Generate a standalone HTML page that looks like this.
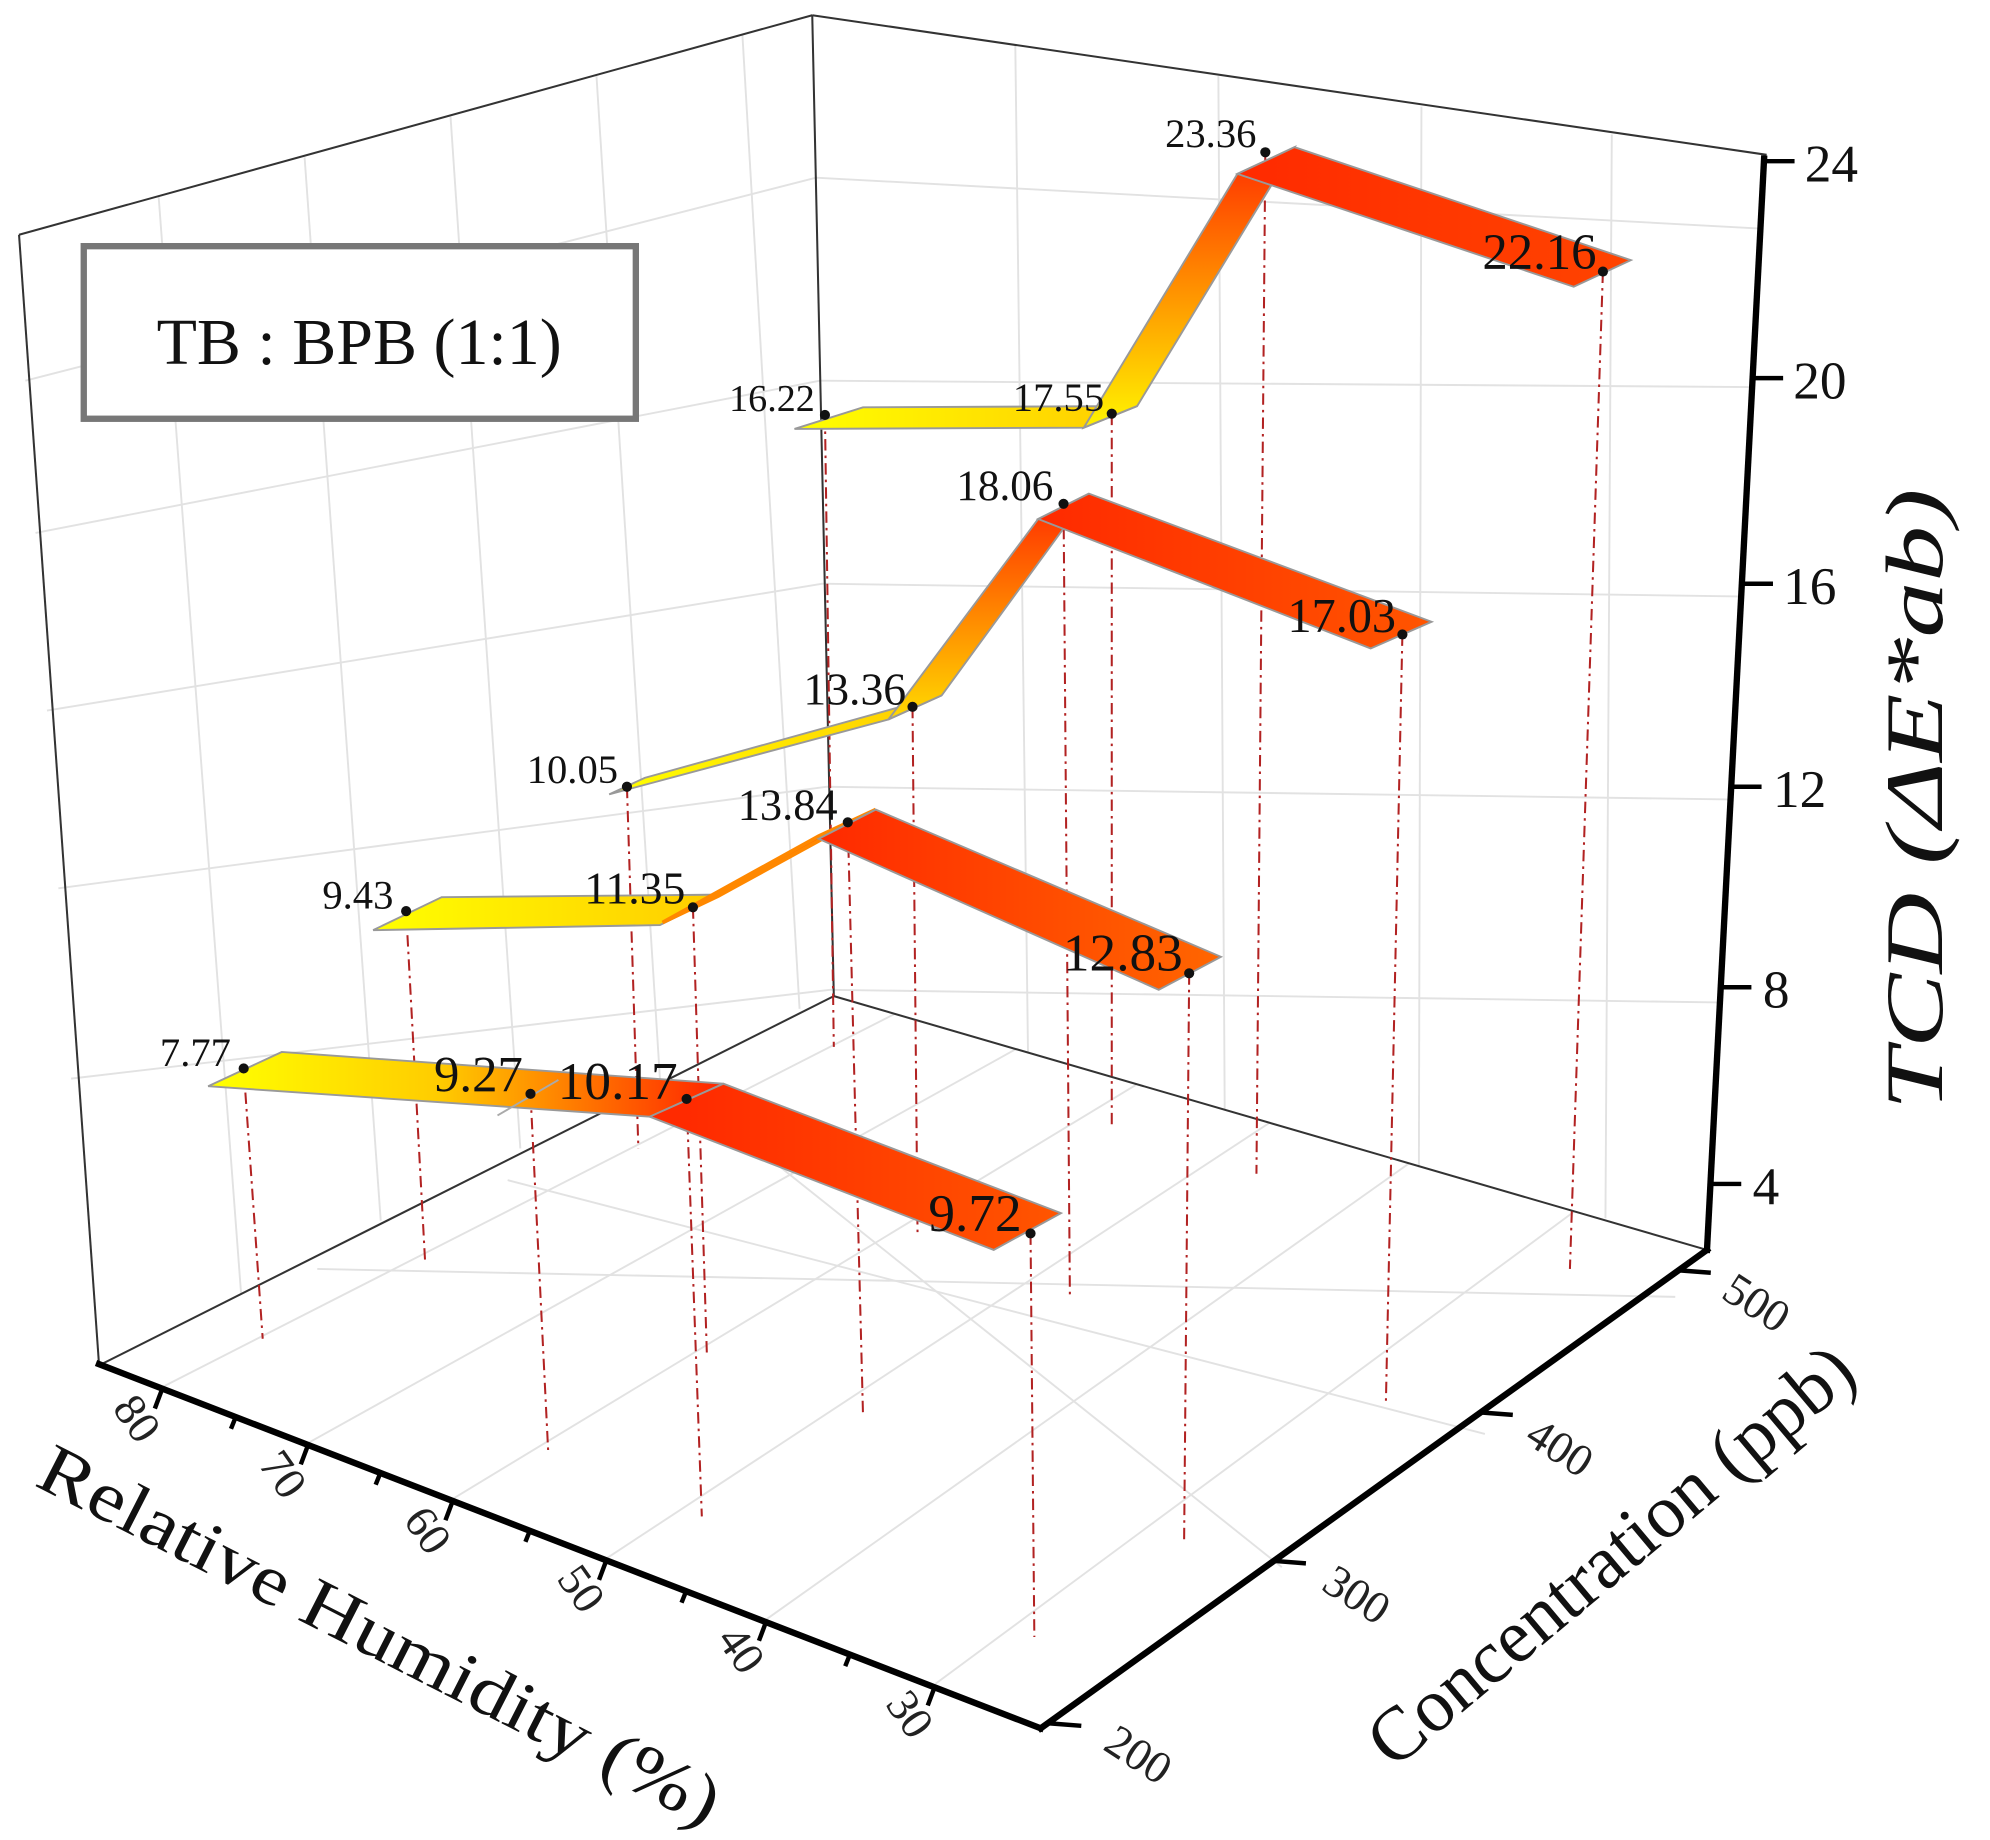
<!DOCTYPE html>
<html><head><meta charset="utf-8"><style>html,body{margin:0;padding:0;background:#fff;}svg{display:block;font-family:"Liberation Serif","Times New Roman",serif;}text{font-family:"Liberation Serif","Times New Roman",serif;}</style></head>
<body>
<svg width="1990" height="1840" viewBox="0 0 1568 1450" preserveAspectRatio="none" xmlns="http://www.w3.org/2000/svg">
<defs>
<linearGradient id="gy" x1="0" x2="1" y1="0" y2="0"><stop offset="0" stop-color="#ffff00"/><stop offset="1" stop-color="#ffcc00"/></linearGradient>
<linearGradient id="g1a" gradientUnits="userSpaceOnUse" x1="170" y1="0" x2="560" y2="0"><stop offset="0" stop-color="#ffff00"/><stop offset="0.45" stop-color="#ffcc00"/><stop offset="1" stop-color="#ff2a00"/></linearGradient>
<linearGradient id="g1b" gradientUnits="userSpaceOnUse" x1="540" y1="0" x2="835" y2="0"><stop offset="0" stop-color="#ff2a00"/><stop offset="1" stop-color="#ff5500"/></linearGradient>
<linearGradient id="g2a" gradientUnits="userSpaceOnUse" x1="540" y1="0" x2="690" y2="0"><stop offset="0" stop-color="#ffaa00"/><stop offset="1" stop-color="#ff3300"/></linearGradient>
<linearGradient id="g2b" gradientUnits="userSpaceOnUse" x1="650" y1="0" x2="962" y2="0"><stop offset="0" stop-color="#ff2a00"/><stop offset="1" stop-color="#ff6600"/></linearGradient>
<linearGradient id="g3a" gradientUnits="userSpaceOnUse" x1="0" y1="570" x2="0" y2="400"><stop offset="0" stop-color="#ffdd00"/><stop offset="1" stop-color="#ff3300"/></linearGradient>
<linearGradient id="g3b" gradientUnits="userSpaceOnUse" x1="820" y1="0" x2="1128" y2="0"><stop offset="0" stop-color="#ff2a00"/><stop offset="1" stop-color="#ff5500"/></linearGradient>
<linearGradient id="g4a" gradientUnits="userSpaceOnUse" x1="0" y1="330" x2="0" y2="125"><stop offset="0" stop-color="#ffee00"/><stop offset="1" stop-color="#ff3300"/></linearGradient>
<linearGradient id="g4b" gradientUnits="userSpaceOnUse" x1="975" y1="0" x2="1285" y2="0"><stop offset="0" stop-color="#ff2a00"/><stop offset="1" stop-color="#ff4400"/></linearGradient>
</defs>

<g stroke="#e2e2e2" stroke-width="1.5" fill="none">
<line x1="20" y1="300" x2="643" y2="140"/>
<line x1="28" y1="420" x2="646" y2="300"/>
<line x1="37" y1="560" x2="648" y2="460"/>
<line x1="46" y1="700" x2="651" y2="620"/>
<line x1="56" y1="850" x2="654" y2="780"/>
<line x1="125" y1="155" x2="190" y2="1020"/>
<line x1="240" y1="124" x2="300" y2="962"/>
<line x1="355" y1="92" x2="410" y2="905"/>
<line x1="470" y1="60" x2="520" y2="850"/>
<line x1="585" y1="28" x2="630" y2="795"/>
<line x1="643" y1="140" x2="1385" y2="180"/>
<line x1="646" y1="300" x2="1378" y2="305"/>
<line x1="648" y1="460" x2="1370" y2="470"/>
<line x1="651" y1="620" x2="1362" y2="630"/>
<line x1="654" y1="780" x2="1355" y2="790"/>
<line x1="800" y1="36" x2="810" y2="830"/>
<line x1="960" y1="60" x2="965" y2="875"/>
<line x1="1120" y1="84" x2="1118" y2="920"/>
<line x1="1270" y1="106" x2="1265" y2="960"/>
<line x1="128" y1="1093" x2="705" y2="799"/>
<line x1="243" y1="1137" x2="800" y2="827"/>
<line x1="357" y1="1181" x2="895" y2="855"/>
<line x1="478" y1="1228" x2="1000" y2="885"/>
<line x1="604" y1="1276" x2="1110" y2="917"/>
<line x1="737" y1="1327" x2="1240" y2="955"/>
<line x1="540" y1="860" x2="1010" y2="1235"/>
<line x1="400" y1="930" x2="1170" y2="1130"/>
<line x1="250" y1="1000" x2="1320" y2="1022"/>
</g>

<g stroke="#333" stroke-width="1.6" fill="none">
<line x1="15" y1="185" x2="640" y2="12"/>
<line x1="640" y1="12" x2="1392" y2="122"/>
<line x1="15" y1="185" x2="78" y2="1075"/>
<line x1="640" y1="12" x2="657" y2="785"/>
<line x1="657" y1="785" x2="80" y2="1075"/>
<line x1="657" y1="785" x2="1345" y2="985"/>
</g>

<rect x="66" y="194" width="435" height="136" fill="#fff" stroke="#777" stroke-width="5"/>
<text x="283" y="287" font-size="52" text-anchor="middle" fill="#111">TB : BPB (1:1)</text>

<g stroke="#b22222" stroke-width="1.6" stroke-dasharray="9,4,2,4" fill="none">
<line x1="192" y1="842" x2="207" y2="1055"/>
<line x1="320" y1="718" x2="335" y2="995"/>
<line x1="418" y1="862" x2="432" y2="1145"/>
<line x1="494" y1="620" x2="503" y2="905"/>
<line x1="541" y1="866" x2="553" y2="1195"/>
<line x1="546" y1="715" x2="557" y2="1068"/>
<line x1="650" y1="327" x2="657" y2="825"/>
<line x1="668" y1="648" x2="680" y2="1115"/>
<line x1="719" y1="557" x2="723" y2="975"/>
<line x1="812" y1="972" x2="815" y2="1290"/>
<line x1="838" y1="397" x2="843" y2="1020"/>
<line x1="876" y1="326" x2="876" y2="890"/>
<line x1="937" y1="767" x2="933" y2="1215"/>
<line x1="997" y1="120" x2="990" y2="925"/>
<line x1="1105" y1="500" x2="1092" y2="1105"/>
<line x1="1263" y1="214" x2="1237" y2="1000"/>
</g>

<g stroke="#999" stroke-width="1.5">
<polygon points="626,338 854,337 896,320 680,321" fill="url(#gy)"/>
<polygon points="854,337 975,137 1020,116 896,320" fill="url(#g4a)"/>
<polygon points="975,137 1240,226 1285,205 1020,116" fill="url(#g4b)"/>
<polygon points="480,626 700,567 742,548 508,613" fill="url(#gy)"/>
<polygon points="700,567 818,409 858,389 742,548" fill="url(#g3a)"/>
<polygon points="818,409 1080,511 1128,490 858,389" fill="url(#g3b)"/>
<polygon points="294,733 520,729 568,705 348,707" fill="url(#gy)"/>
<polygon points="522,727 645,659 690,638 566,706" fill="url(#g2a)" stroke="#ff8800" stroke-width="3"/>
<polygon points="645,661 913,780 962,754 690,638" fill="url(#g2b)"/>
<polygon points="164,856 512,880 570,854 222,829" fill="url(#g1a)"/>
<polygon points="512,880 783,985 836,956 570,854" fill="url(#g1b)"/>
<line x1="392" y1="879" x2="440" y2="851" stroke="#aaa"/>
</g>

<g fill="#111">
<circle cx="192" cy="842" r="4"/><circle cx="418" cy="862" r="4"/><circle cx="541" cy="866" r="4"/><circle cx="812" cy="972" r="4"/>
<circle cx="320" cy="718" r="4"/><circle cx="546" cy="715" r="4"/><circle cx="668" cy="648" r="4"/><circle cx="937" cy="767" r="4"/>
<circle cx="494" cy="620" r="4"/><circle cx="719" cy="557" r="4"/><circle cx="838" cy="397" r="4"/><circle cx="1105" cy="500" r="4"/>
<circle cx="650" cy="327" r="4"/><circle cx="876" cy="326" r="4"/><circle cx="997" cy="120" r="4"/><circle cx="1263" cy="214" r="4"/>
</g>

<g fill="#111" text-anchor="end">
<text x="182" y="840" font-size="32">7.77</text>
<text x="412" y="860" font-size="40">9.27</text>
<text x="534" y="866" font-size="42">10.17</text>
<text x="805" y="970" font-size="42">9.72</text>
<text x="310" y="716" font-size="32">9.43</text>
<text x="540" y="712" font-size="36">11.35</text>
<text x="660" y="646" font-size="35">13.84</text>
<text x="932" y="765" font-size="42">12.83</text>
<text x="487" y="617" font-size="32">10.05</text>
<text x="714" y="555" font-size="36">13.36</text>
<text x="830" y="394" font-size="34">18.06</text>
<text x="1100" y="498" font-size="38">17.03</text>
<text x="642" y="324" font-size="30">16.22</text>
<text x="870" y="324" font-size="32">17.55</text>
<text x="990" y="116" font-size="32">23.36</text>
<text x="1258" y="212" font-size="40">22.16</text>
</g>

<g stroke="#000" stroke-width="5" fill="none" stroke-linecap="square">
<line x1="78" y1="1075" x2="820" y2="1362"/>
<line x1="820" y1="1362" x2="1345" y2="985"/>
<line x1="1345" y1="985" x2="1390" y2="125"/>
</g>
<g stroke="#000" stroke-width="3.5">
<line x1="1390" y1="127" x2="1414" y2="127"/>
<line x1="1381" y1="298" x2="1405" y2="298"/>
<line x1="1373" y1="460" x2="1397" y2="460"/>
<line x1="1364" y1="620" x2="1388" y2="620"/>
<line x1="1356" y1="778" x2="1380" y2="778"/>
<line x1="1348" y1="933" x2="1372" y2="933"/>
</g>
<g font-size="42" fill="#111">
<text x="1422" y="143">24</text>
<text x="1413" y="314">20</text>
<text x="1405" y="476">16</text>
<text x="1397" y="636">12</text>
<text x="1389" y="794">8</text>
<text x="1381" y="949">4</text>
</g>
<g stroke="#000" stroke-width="3.5">
<line x1="128" y1="1094" x2="122" y2="1110"/>
<line x1="186" y1="1116" x2="182" y2="1126"/>
<line x1="243" y1="1138" x2="237" y2="1154"/>
<line x1="300" y1="1160" x2="296" y2="1170"/>
<line x1="357" y1="1182" x2="351" y2="1198"/>
<line x1="418" y1="1205" x2="414" y2="1215"/>
<line x1="478" y1="1229" x2="472" y2="1245"/>
<line x1="541" y1="1253" x2="537" y2="1263"/>
<line x1="604" y1="1277" x2="598" y2="1293"/>
<line x1="670" y1="1303" x2="666" y2="1313"/>
<line x1="737" y1="1328" x2="731" y2="1344"/>
</g>
<g font-size="36" fill="#222">
<text transform="translate(88,1110) rotate(55)">80</text>
<text transform="translate(203,1154) rotate(55)">70</text>
<text transform="translate(317,1198) rotate(55)">60</text>
<text transform="translate(438,1244) rotate(55)">50</text>
<text transform="translate(564,1292) rotate(55)">40</text>
<text transform="translate(697,1343) rotate(55)">30</text>
</g>
<g stroke="#000" stroke-width="3.5">
<line x1="826" y1="1358" x2="852" y2="1360"/>
<line x1="1003" y1="1230" x2="1029" y2="1232"/>
<line x1="1166" y1="1113" x2="1192" y2="1115"/>
<line x1="1322" y1="1001" x2="1348" y2="1003"/>
</g>
<g font-size="36" fill="#222">
<text transform="translate(868,1378) rotate(33)">200</text>
<text transform="translate(1040,1252) rotate(33)">300</text>
<text transform="translate(1200,1136) rotate(33)">400</text>
<text transform="translate(1355,1022) rotate(33)">500</text>
</g>
<text transform="translate(26,1170) rotate(27)" font-size="56" fill="#111" textLength="595" lengthAdjust="spacingAndGlyphs">Relative Humidity (%)</text>
<text transform="translate(1098,1395) rotate(-40)" font-size="60" fill="#111" textLength="480" lengthAdjust="spacingAndGlyphs">Concentration (ppb)</text>
<text transform="translate(1530,875) rotate(-90)" font-size="64" font-style="italic" fill="#111" textLength="490" lengthAdjust="spacingAndGlyphs">TCD (ΔE*ab)</text>
</svg>
</body></html>
